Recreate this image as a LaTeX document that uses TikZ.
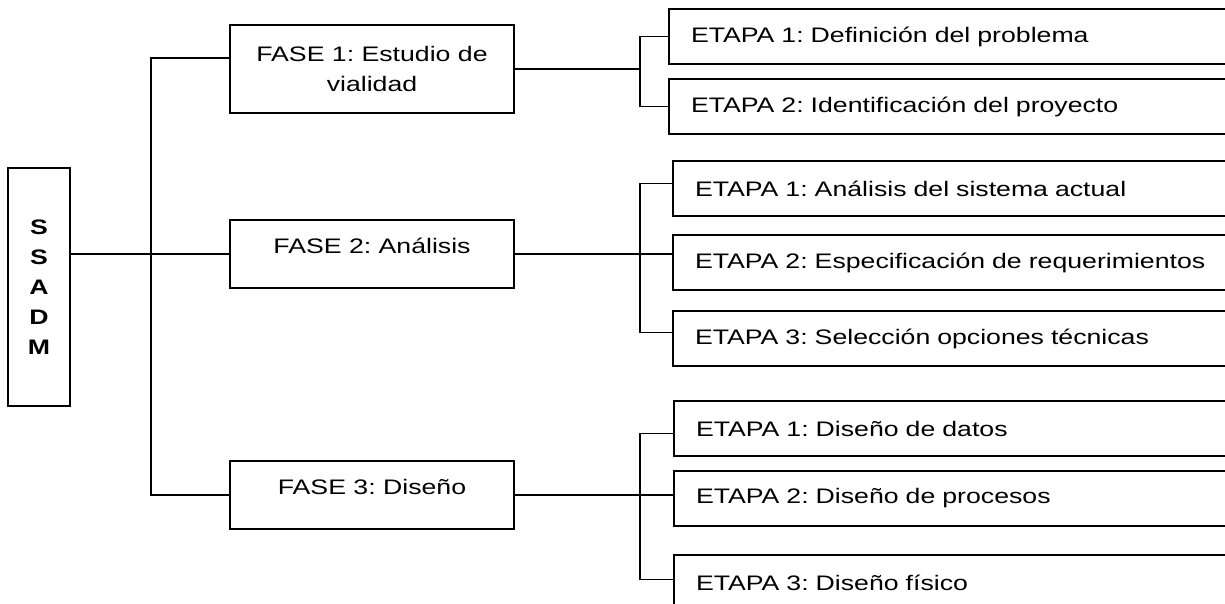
\documentclass[tikz,border=0pt]{standalone}
\usepackage{fontspec}
\setmainfont{Liberation Sans}[FakeStretch=1.27]
\usetikzlibrary{positioning}
\frenchspacing

\begin{document}
\begin{tikzpicture}[x=1pt,y=-1pt,font=\fontsize{21}{30}\selectfont,
    box/.style={draw,rectangle,line width=2pt,inner sep=0pt},
    fase/.style={box,minimum width=284pt,minimum height=68pt,align=center},
    etapa/.style={box,minimum width=570pt,minimum height=55pt,
      text width=526pt,inner xsep=22pt,align=left},
    link/.style={line width=1.6pt},
    node distance=13pt]

  \useasboundingbox (0,0) rectangle (1225,603);

  \node[box,minimum width=62pt,minimum height=238pt,align=center,
    font=\fontsize{21}{30}\selectfont\bfseries] (ssadm) at (39,287) {S\\S\\A\\D\\M};

  \node[fase,minimum height=88pt] (f1) at (372,69) {FASE 1: Estudio de\\vialidad};
  \node[fase,text depth=17pt] (f2) at (372,254) {FASE 2: Análisis};
  \node[fase,text depth=17pt] (f3) at (372,495) {FASE 3: Diseño};

  \node[etapa,anchor=north west] (f1e1) at (668,8) {ETAPA 1: Definición del problema};
  \node[etapa] (f1e2) [below=of f1e1] {ETAPA 2: Identificación del proyecto};

  \node[etapa,anchor=north west] (f2e1) at (672,160) {ETAPA 1: Análisis del sistema actual};
  \node[etapa] (f2e2) [below=17pt of f2e1] {ETAPA 2: Especificación de requerimientos};
  \node[etapa] (f2e3) [below=19pt of f2e2] {ETAPA 3: Selección opciones técnicas};

  \node[etapa,anchor=north west] (f3e1) at (673,400) {ETAPA 1: Diseño de datos};
  \node[etapa] (f3e2) [below=of f3e1] {ETAPA 2: Diseño de procesos};
  \node[etapa] (f3e3) [below=27pt of f3e2] {ETAPA 3: Diseño físico};

  \draw[link] (ssadm.east |- f2.west) -- (f2.west);
  \draw[link] ([yshift=11pt]f1.west) -- ++(-78,0) coordinate (trunk) |- (f3.west);

  \draw[link] (f1.east) -- ++(125,0) coordinate (b1);
  \draw[link] (f1e1.west) -| (b1) |- (f1e2.west);

  \draw[link] (f2.east) -- (f2.east -| f2e2.west);
  \draw[link] ([yshift=5pt]f2e1.west) -- ++(-32,0) coordinate (b2) |- ([yshift=6pt]f2e3.west);

  \draw[link] (f3.east) -- (f3.east -| f3e2.west);
  \draw[link] ([yshift=-5pt]f3e1.west) -- ++(-33,0) coordinate (b3) |- ([yshift=3pt]f3e3.west);

\end{tikzpicture}
\end{document}
